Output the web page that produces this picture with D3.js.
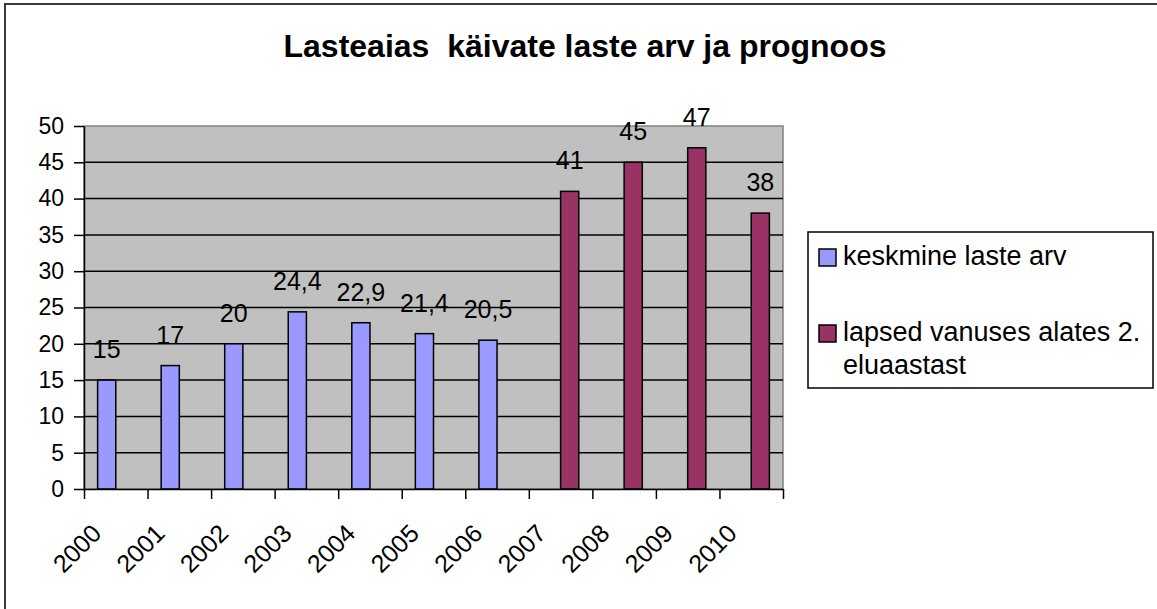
<!DOCTYPE html>
<html>
<head>
<meta charset="utf-8">
<script src="https://cdn.jsdelivr.net/npm/d3@7"></script>
<style>
  body { margin: 0; background: #fff; }
  text { font-family: "Liberation Sans", Arial, sans-serif; fill: #000; }
</style>
</head>
<body>
<div id="chart"></div>
<script>
// data
var years = ["2000","2001","2002","2003","2004","2005","2006","2007","2008","2009","2010"];
var keskmine = [15, 17, 20, 24.4, 22.9, 21.4, 20.5, null, null, null, null];
var lapsed   = [null, null, null, null, null, null, null, 41, 45, 47, 38];
var seriesNames = ["keskmine laste arv", "lapsed vanuses alates 2. eluaastast"];
var seriesColors = ["#9999ff", "#993366"];
var yTicks = [0, 5, 10, 15, 20, 25, 30, 35, 40, 45, 50];

var w = 1157, h = 609;
var plotLeft = 84, plotRight = 783, plotTop = 126, plotBottom = 489;

var svg = d3.select("#chart").append("svg")
    .attr("width", w)
    .attr("height", h);

// outer chart border (right/bottom edge cut off in the picture)
svg.append("rect")
    .attr("x", 5).attr("y", 4)
    .attr("width", 1300).attr("height", 800)
    .attr("fill", "#fff")
    .attr("stroke", "#3a3a3a")
    .attr("stroke-width", 2);

// title
svg.append("text")
    .attr("x", 585).attr("y", 57)
    .attr("text-anchor", "middle")
    .attr("font-size", 32)
    .attr("font-weight", "bold")
    .style("white-space", "pre")
    .text("Lasteaias  käivate laste arv ja prognoos");

var x = d3.scaleBand().domain(years).range([plotLeft, plotRight]).padding(0);
var x1 = d3.scaleBand().domain([0, 1]).range([0, x.bandwidth()]).paddingInner(0).paddingOuter(0.75);
var xEdge = d3.scaleLinear().domain([0, years.length]).range([plotLeft, plotRight]);
var y = d3.scaleLinear().domain([0, 50]).range([plotBottom, plotTop]);

// plot area
svg.append("rect")
    .attr("x", plotLeft).attr("y", plotTop)
    .attr("width", plotRight - plotLeft).attr("height", plotBottom - plotTop)
    .attr("fill", "#c0c0c0")
    .attr("stroke", "#808080")
    .attr("stroke-width", 1.5);

// gridlines
svg.append("g").selectAll("line")
    .data(yTicks.filter(function(d){ return d > 0 && d < 50; }))
    .enter().append("line")
    .attr("x1", plotLeft).attr("x2", plotRight)
    .attr("y1", function(d){ return y(d); })
    .attr("y2", function(d){ return y(d); })
    .attr("stroke", "#000")
    .attr("stroke-width", 1.5);

// bars
var rows = years.map(function(yr, i){ return { year: yr, vals: [keskmine[i], lapsed[i]] }; });

var groups = svg.append("g").selectAll("g")
    .data(rows)
    .enter().append("g")
    .attr("transform", function(d){ return "translate(" + x(d.year) + ",0)"; });

var cells = groups.selectAll("g")
    .data(function(d){ return d.vals.map(function(v, k){ return { k: k, v: v }; }).filter(function(e){ return e.v != null; }); })
    .enter().append("g");

cells.append("rect")
    .attr("x", function(d){ return x1(d.k); })
    .attr("width", x1.bandwidth())
    .attr("y", function(d){ return y(d.v); })
    .attr("height", function(d){ return y(0) - y(d.v); })
    .attr("fill", function(d){ return seriesColors[d.k]; })
    .attr("stroke", "#000")
    .attr("stroke-width", 1.5);

cells.append("text")
    .attr("x", function(d){ return x1(d.k) + x1.bandwidth() / 2; })
    .attr("y", function(d){ return y(d.v) - 22; })
    .attr("text-anchor", "middle")
    .attr("font-size", 25)
    .text(function(d){ return String(d.v).replace(".", ","); });

// y axis
var yAxis = svg.append("g")
    .attr("transform", "translate(" + plotLeft + ",0)")
    .call(d3.axisLeft(y).tickValues(yTicks).tickSize(10).tickSizeOuter(0).tickPadding(10));
yAxis.select(".domain").attr("stroke", "#000").attr("stroke-width", 1.5);
yAxis.selectAll(".tick line").attr("stroke", "#000").attr("stroke-width", 1.5);
yAxis.selectAll(".tick text").attr("font-size", 23).attr("font-family", null).attr("fill", "#000");

// x axis: ticks on category edges
var xAxis = svg.append("g")
    .attr("transform", "translate(0," + plotBottom + ")")
    .call(d3.axisBottom(xEdge).ticks(years.length).tickSize(10).tickSizeOuter(0).tickFormat(""));
xAxis.select(".domain").attr("stroke", "#000").attr("stroke-width", 1.5);
xAxis.selectAll(".tick line").attr("stroke", "#000").attr("stroke-width", 1.5);

svg.append("g").selectAll("text")
    .data(years)
    .enter().append("text")
    .attr("transform", function(d){ return "translate(" + (x(d) + x.bandwidth() / 2 - 13) + ",535) rotate(-45)"; })
    .attr("text-anchor", "end")
    .attr("font-size", 25)
    .text(function(d){ return d; });

// legend
var legend = svg.append("g");
legend.append("rect")
    .attr("x", 808).attr("y", 232)
    .attr("width", 345).attr("height", 156)
    .attr("fill", "#fff")
    .attr("stroke", "#000")
    .attr("stroke-width", 1.5);

var legendRows = [
  { lines: ["keskmine laste arv"], sy: 249 },
  { lines: ["lapsed vanuses alates 2.", "eluaastast"], sy: 325 }
];
legendRows.forEach(function(r, i){
  legend.append("rect")
      .attr("x", 819).attr("y", r.sy)
      .attr("width", 17).attr("height", 17)
      .attr("fill", seriesColors[i])
      .attr("stroke", "#000")
      .attr("stroke-width", 1.5);
  r.lines.forEach(function(t, j){
    legend.append("text")
        .attr("x", 843).attr("y", r.sy + 16 + j * 33)
        .attr("font-size", 27)
        .text(t);
  });
});
</script>
</body>
</html>
